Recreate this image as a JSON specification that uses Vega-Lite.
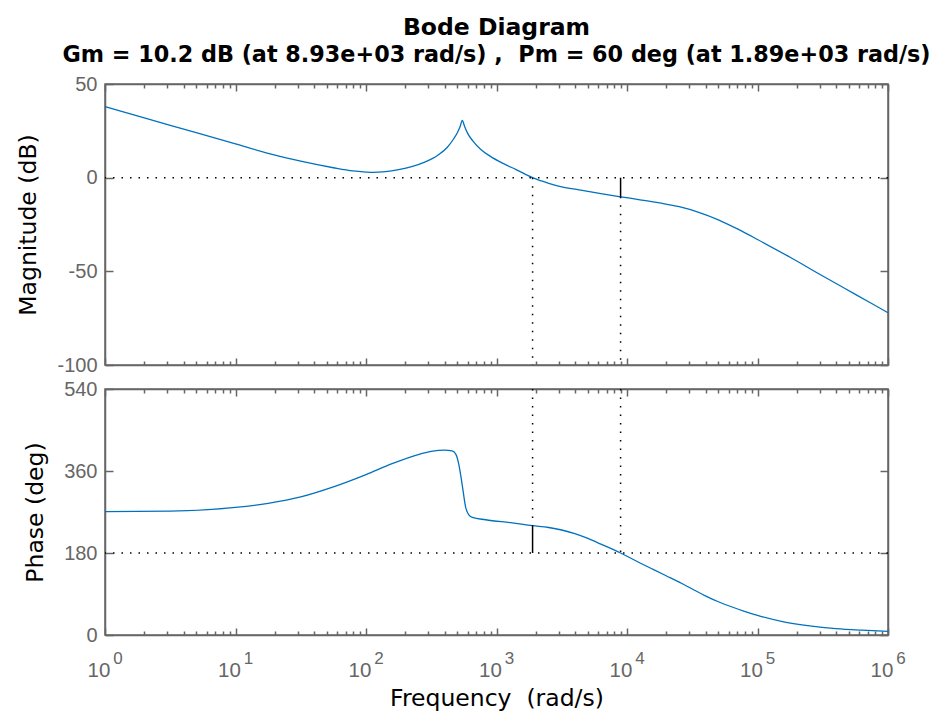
{
  "$schema": "https://vega.github.io/schema/vega-lite/v6.json",
  "padding": {"left": 16, "top": 15, "right": 5, "bottom": 5},
  "datasets": {
    "mag": [
      {"w": 1, "db": 37.9}, {"w": 2, "db": 31.9}, {"w": 5, "db": 24.0}, {"w": 10, "db": 18.0},
      {"w": 17.78, "db": 13.0}, {"w": 31.62, "db": 8.8}, {"w": 56.23, "db": 5.3}, {"w": 79.43, "db": 3.6},
      {"w": 100, "db": 3.0}, {"w": 112.2, "db": 2.8}, {"w": 141.3, "db": 3.2}, {"w": 177.8, "db": 4.3},
      {"w": 223.9, "db": 5.9}, {"w": 281.8, "db": 8.3}, {"w": 354.8, "db": 12.0}, {"w": 416.9, "db": 16.0},
      {"w": 467.7, "db": 20.5}, {"w": 501.2, "db": 24.0}, {"w": 524.8, "db": 27.0}, {"w": 547.0, "db": 30.6},
      {"w": 568.9, "db": 27.5}, {"w": 602.6, "db": 23.5}, {"w": 660.7, "db": 19.5}, {"w": 758.6, "db": 15.0},
      {"w": 891.3, "db": 11.5}, {"w": 1122, "db": 7.6}, {"w": 1413, "db": 4.3}, {"w": 1888, "db": 0.0},
      {"w": 2512, "db": -3.0}, {"w": 3162, "db": -4.9}, {"w": 4285, "db": -6.5}, {"w": 6310, "db": -8.5},
      {"w": 8933, "db": -10.2}, {"w": 12589, "db": -11.8}, {"w": 17783, "db": -13.5}, {"w": 25119, "db": -15.5},
      {"w": 35481, "db": -18.5}, {"w": 50119, "db": -22.5}, {"w": 70795, "db": -27.5}, {"w": 100000, "db": -33.0},
      {"w": 177828, "db": -42.5}, {"w": 316228, "db": -52.5}, {"w": 562341, "db": -62.3}, {"w": 1000000, "db": -72.1}
    ],
    "phase": [
      {"w": 1, "deg": 271}, {"w": 3.162, "deg": 272}, {"w": 10, "deg": 280}, {"w": 17.78, "deg": 289},
      {"w": 31.62, "deg": 303}, {"w": 56.23, "deg": 325}, {"w": 100, "deg": 352}, {"w": 158.5, "deg": 376},
      {"w": 251.2, "deg": 396}, {"w": 316.2, "deg": 403}, {"w": 398.1, "deg": 406}, {"w": 457.1, "deg": 404},
      {"w": 489.8, "deg": 396}, {"w": 516.4, "deg": 372}, {"w": 547.0, "deg": 328}, {"w": 580.8, "deg": 280},
      {"w": 616.6, "deg": 263}, {"w": 653.1, "deg": 258}, {"w": 826.0, "deg": 253}, {"w": 1321, "deg": 246},
      {"w": 1888, "deg": 240}, {"w": 2512, "deg": 236}, {"w": 3162, "deg": 230.5}, {"w": 3981, "deg": 222.5},
      {"w": 5012, "deg": 212}, {"w": 6310, "deg": 199.5}, {"w": 8933, "deg": 180},
      {"w": 12589, "deg": 158}, {"w": 15849, "deg": 144}, {"w": 19953, "deg": 130}, {"w": 25119, "deg": 116},
      {"w": 31623, "deg": 101}, {"w": 39811, "deg": 86}, {"w": 50119, "deg": 73}, {"w": 63096, "deg": 62},
      {"w": 79433, "deg": 52}, {"w": 100000, "deg": 43}, {"w": 158489, "deg": 29}, {"w": 251189, "deg": 20},
      {"w": 398107, "deg": 14}, {"w": 630957, "deg": 10.5}, {"w": 1000000, "deg": 8}
    ],
    "magDotted": [
      {"w": 1890, "y1": 0, "y2": -100},
      {"w": 8930, "y1": -10.2, "y2": -100}
    ],
    "magSolid": [{"w": 8930, "y1": 0, "y2": -10.2}],
    "magRef": [{"y": 0}],
    "phDotted": [
      {"w": 1890, "y1": 540, "y2": 240},
      {"w": 8930, "y1": 540, "y2": 180}
    ],
    "phSolid": [{"w": 1890, "y1": 240, "y2": 180}],
    "phRef": [{"y": 180}]
  },
  "vconcat": [
    {
      "width": 783,
      "height": 281,
      "title": {
        "text": "Bode Diagram",
        "subtitle": "Gm = 10.2 dB (at 8.93e+03 rad/s) ,\u00a0 Pm = 60 deg (at 1.89e+03 rad/s)",
        "font": "DejaVu Sans", "fontSize": 23.5, "fontWeight": "bold", "color": "#000",
        "subtitleFont": "DejaVu Sans", "subtitleFontSize": 22.3, "subtitleFontWeight": "bold", "subtitleColor": "#000",
        "subtitlePadding": 4, "anchor": "middle", "frame": "group", "offset": 8
      },
      "resolve": {"axis": {"x": "independent", "y": "independent"}},
      "layer": [
        {
          "data": {"name": "mag"},
          "mark": {"type": "line", "color": "#0072BD", "strokeWidth": 1.3, "interpolate": "monotone"},
          "encoding": {
            "x": {"field": "w", "type": "quantitative", "scale": {"type": "log", "domain": [1, 1000000], "nice": false},
                  "axis": {"orient": "bottom", "title": null, "labels": false, "values": [1,2,3,4,5,6,7,8,9,10,20,30,40,50,60,70,80,90,100,200,300,400,500,600,700,800,900,1000,2000,3000,4000,5000,6000,7000,8000,9000,10000,20000,30000,40000,50000,60000,70000,80000,90000,100000,200000,300000,400000,500000,600000,700000,800000,900000,1000000],
                           "tickSize": {"condition": {"test": "indexof([1,10,100,1000,10000,100000,1000000], datum.value) >= 0", "value": -7}, "value": -4}}},
            "y": {"field": "db", "type": "quantitative", "scale": {"domain": [-100, 50], "nice": false, "zero": false},
                  "axis": {"orient": "left", "title": "Magnitude (dB)", "values": [-100, -50, 0, 50], "labelExpr": "'' + datum.value", "tickSize": -8, "labelPadding": 16, "titlePadding": 16}}
          }
        },
        {
          "data": {"name": "magDotted"},
          "mark": {"type": "rule", "color": "#000", "strokeWidth": 1.5, "strokeDash": [1.5, 7]},
          "encoding": {
            "x": {"field": "w", "type": "quantitative",
                  "axis": {"orient": "top", "title": null, "labels": false, "values": [1,2,3,4,5,6,7,8,9,10,20,30,40,50,60,70,80,90,100,200,300,400,500,600,700,800,900,1000,2000,3000,4000,5000,6000,7000,8000,9000,10000,20000,30000,40000,50000,60000,70000,80000,90000,100000,200000,300000,400000,500000,600000,700000,800000,900000,1000000],
                           "tickSize": {"condition": {"test": "indexof([1,10,100,1000,10000,100000,1000000], datum.value) >= 0", "value": -7}, "value": -4}}},
            "y": {"field": "y1", "type": "quantitative",
                  "axis": {"orient": "right", "title": null, "labels": false, "values": [-100, -50, 0, 50], "tickSize": -8}},
            "y2": {"field": "y2"}
          }
        },
        {
          "data": {"name": "magSolid"},
          "mark": {"type": "rule", "color": "#000", "strokeWidth": 1.5},
          "encoding": {
            "x": {"field": "w", "type": "quantitative", "axis": null},
            "y": {"field": "y1", "type": "quantitative", "axis": null},
            "y2": {"field": "y2"}
          }
        },
        {
          "data": {"name": "magRef"},
          "mark": {"type": "rule", "color": "#000", "strokeWidth": 1.5, "strokeDash": [1.5, 7]},
          "encoding": {
            "y": {"field": "y", "type": "quantitative", "axis": null}
          }
        }
      ]
    },
    {
      "width": 783,
      "height": 246,
      "resolve": {"axis": {"x": "independent", "y": "independent"}},
      "layer": [
        {
          "data": {"name": "phase"},
          "mark": {"type": "line", "color": "#0072BD", "strokeWidth": 1.3, "interpolate": "monotone"},
          "encoding": {
            "x": {"field": "w", "type": "quantitative", "scale": {"type": "log", "domain": [1, 1000000], "nice": false},
                  "axis": {"orient": "bottom", "title": "Frequency \u00a0(rad/s)", "values": [1,2,3,4,5,6,7,8,9,10,20,30,40,50,60,70,80,90,100,200,300,400,500,600,700,800,900,1000,2000,3000,4000,5000,6000,7000,8000,9000,10000,20000,30000,40000,50000,60000,70000,80000,90000,100000,200000,300000,400000,500000,600000,700000,800000,900000,1000000],
                           "labelExpr": "indexof([1,10,100,1000,10000,100000,1000000], datum.value) >= 0 ? '10' : ''",
                           "labelFontSize": 20.5, "labelPadding": 32.5, "labelOffset": -6.5, "labelFlush": false, "labelOverlap": false, "titlePadding": 2,
                           "tickSize": {"condition": {"test": "indexof([1,10,100,1000,10000,100000,1000000], datum.value) >= 0", "value": -7}, "value": -4}}},
            "y": {"field": "deg", "type": "quantitative", "scale": {"domain": [0, 540], "nice": false},
                  "axis": {"orient": "left", "title": "Phase (deg)", "values": [0, 180, 360, 540], "tickSize": -8, "labelPadding": 16, "titlePadding": 16}}
          }
        },
        {
          "data": {"name": "phDotted"},
          "mark": {"type": "rule", "color": "#000", "strokeWidth": 1.5, "strokeDash": [1.5, 7]},
          "encoding": {
            "x": {"field": "w", "type": "quantitative",
                  "axis": {"orient": "top", "title": null, "labels": false, "values": [1,2,3,4,5,6,7,8,9,10,20,30,40,50,60,70,80,90,100,200,300,400,500,600,700,800,900,1000,2000,3000,4000,5000,6000,7000,8000,9000,10000,20000,30000,40000,50000,60000,70000,80000,90000,100000,200000,300000,400000,500000,600000,700000,800000,900000,1000000],
                           "tickSize": {"condition": {"test": "indexof([1,10,100,1000,10000,100000,1000000], datum.value) >= 0", "value": -7}, "value": -4}}},
            "y": {"field": "y1", "type": "quantitative",
                  "axis": {"orient": "right", "title": null, "labels": false, "values": [0, 180, 360, 540], "tickSize": -8}},
            "y2": {"field": "y2"}
          }
        },
        {
          "data": {"name": "phSolid"},
          "mark": {"type": "rule", "color": "#000", "strokeWidth": 1.5},
          "encoding": {
            "x": {"field": "w", "type": "quantitative",
                  "axis": {"orient": "bottom", "title": null, "domain": false, "tickColor": "transparent", "tickSize": -7,
                           "values": [1, 10, 100, 1000, 10000, 100000, 1000000],
                           "labelExpr": "'' + round(log(datum.value) / LN10)",
                           "labelFontSize": 17, "labelPadding": 22.5, "labelOffset": 12.5, "labelFlush": false, "labelOverlap": false}},
            "y": {"field": "y1", "type": "quantitative", "axis": null},
            "y2": {"field": "y2"}
          }
        },
        {
          "data": {"name": "phRef"},
          "mark": {"type": "rule", "color": "#000", "strokeWidth": 1.5, "strokeDash": [1.5, 7]},
          "encoding": {
            "y": {"field": "y", "type": "quantitative", "axis": null}
          }
        }
      ]
    }
  ],
  "spacing": 24,
  "bounds": "flush",
  "config": {
    "font": "Liberation Sans",
    "view": {"stroke": "#666666", "strokeWidth": 1.5},
    "axis": {
      "grid": false,
      "domainColor": "#666666", "domainWidth": 1.5,
      "tickColor": "#666666", "tickWidth": 1.5,
      "labelColor": "#666666", "labelFont": "Liberation Sans", "labelFontSize": 20,
      "titleFont": "DejaVu Sans", "titleFontSize": 23.5, "titleFontWeight": "normal", "titleColor": "#000"
    }
  }
}
